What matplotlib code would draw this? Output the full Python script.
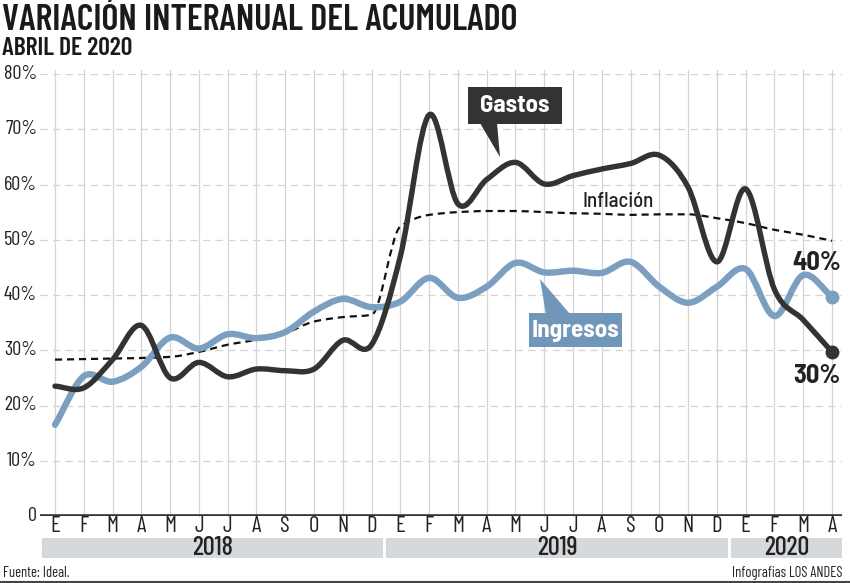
import matplotlib
matplotlib.use("Agg")
import matplotlib.pyplot as plt
from matplotlib.path import Path
from matplotlib.patches import PathPatch, Rectangle, Polygon
import numpy as np

months = ["E", "F", "M", "A", "M", "J", "J", "A", "S", "O", "N", "D",
          "E", "F", "M", "A", "M", "J", "J", "A", "S", "O", "N", "D",
          "E", "F", "M", "A"]
years = ["2018", "2019", "2020"]

gastos = [23.5, 23.2, 28.3, 34.5, 25.0, 27.8, 25.2, 26.6, 26.3, 26.6, 31.8, 31.0,
          47.0, 72.6, 56.5, 60.9, 64.0, 60.1, 61.6, 62.8, 63.8, 65.3, 59.5, 46.0,
          59.2, 41.0, 35.5, 29.7]
ingresos = [16.5, 25.3, 24.3, 27.0, 32.3, 30.3, 32.9, 32.2, 33.3, 37.0, 39.3, 37.8,
            38.8, 43.1, 39.5, 41.5, 45.8, 44.1, 44.4, 44.0, 46.0, 41.5, 38.6, 41.5,
            44.7, 36.2, 43.6, 39.7]
inflacion = [28.3, 28.4, 28.5, 28.6, 28.8, 29.7, 31.0, 31.9, 33.1, 35.2, 36.0, 36.4,
             52.4, 54.5, 55.0, 55.2, 55.2, 55.0, 54.8, 54.7, 54.5, 54.6, 54.6, 53.9,
             53.0, 51.8, 50.9, 49.8]
yticks = [0, 10, 20, 30, 40, 50, 60, 70, 80]
ytick_labels = ["0", "10%", "20%", "30%", "40%", "50%", "60%", "70%", "80%"]

DARK = "#333333"
BLUE = "#7b9fc0"
BLUE_BOX = "#7096b9"
BAND = "#d6d9dc"
GRID = "#d4d4d4"
TXT = "#222222"
COND = ["Barlow Condensed", "DejaVu Sans"]
SEMI = ["Barlow Semi Condensed", "Barlow Condensed", "DejaVu Sans"]

W, H = 850, 583
fig = plt.figure(figsize=(W / 100, H / 100), dpi=100)

def fx(px):
    return px / W

def fy(py):
    return 1 - py / H

ax_l, ax_r, ax_t, ax_b = 40, 842, 74, 516
ax = fig.add_axes([fx(ax_l), fy(ax_b), (ax_r - ax_l) / W, (ax_b - ax_t) / H])
x0_px, dx_px = 55, (832 - 55) / 27
ax.set_xlim((ax_l - x0_px) / dx_px, (ax_r - x0_px) / dx_px)
ax.set_ylim(0, 80)
for s in ax.spines.values():
    s.set_visible(False)
ax.set_xticks([])
ax.set_yticks([])
ax.patch.set_alpha(0)

x = np.arange(len(months))

def dxp(px):
    return (px - x0_px) / dx_px

def dyp(py):
    return (ax_b - py) / (ax_b - ax_t) * 80

# grid
for xi in x:
    ax.plot([xi, xi], [0, dyp(70)], color=GRID, lw=0.9, zorder=1, clip_on=False)
for yt in yticks[1:]:
    ax.plot(ax.get_xlim(), [yt, yt], color=GRID, lw=0.9, ls=(0, (6, 4)), zorder=1)
ax.plot(ax.get_xlim(), [0, 0], color=DARK, lw=2.6, zorder=5, solid_capstyle="butt")

def tangents(y, monotone=False):
    y = np.asarray(y, float)
    n = len(y)
    d = np.diff(y)
    m = np.zeros(n)
    m[0], m[-1] = d[0], d[-1]
    if monotone:
        for i in range(1, n - 1):
            if d[i - 1] * d[i] <= 0:
                m[i] = 0
            else:
                m[i] = 2 / (1 / d[i - 1] + 1 / d[i])
    else:
        m[1:-1] = (y[2:] - y[:-2]) / 2
    return m

def smooth_path(xs, ys, monotone=False):
    ys = np.asarray(ys, float)
    m = tangents(ys, monotone)
    verts = [(xs[0], ys[0])]
    codes = [Path.MOVETO]
    for i in range(len(xs) - 1):
        h = xs[i + 1] - xs[i]
        verts += [(xs[i] + h / 3, ys[i] + m[i] * h / 3),
                  (xs[i + 1] - h / 3, ys[i + 1] - m[i + 1] * h / 3),
                  (xs[i + 1], ys[i + 1])]
        codes += [Path.CURVE4] * 3
    return Path(verts, codes)

ax.add_patch(PathPatch(smooth_path(x, inflacion, monotone=True), fill=False,
                       edgecolor="#111111", lw=1.6, ls=(0, (3.2, 2.2)), zorder=3))
ax.add_patch(PathPatch(smooth_path(x, ingresos), fill=False, edgecolor=BLUE,
                       lw=4.6, zorder=4, capstyle="round", joinstyle="round"))
ax.add_patch(PathPatch(smooth_path(x, gastos), fill=False, edgecolor=DARK,
                       lw=3.9, zorder=6, capstyle="round", joinstyle="round"))
ax.plot([x[-1]], [ingresos[-1]], "o", color=BLUE, ms=9, zorder=7)
ax.plot([x[-1]], [gastos[-1]], "o", color=DARK, ms=9, zorder=7)

# callouts
ax.add_patch(Rectangle((dxp(468), dyp(124)), dxp(562) - dxp(468), dyp(87) - dyp(124),
                       facecolor=DARK, edgecolor="none", zorder=8, clip_on=False))
ax.add_patch(Polygon([(dxp(480), dyp(123)), (dxp(497), dyp(123)), (dxp(500), dyp(157))],
                     closed=True, facecolor=DARK, edgecolor="none", zorder=8))
ax.text(dxp(515), dyp(106), "Gastos", color="white", fontsize=18, fontweight="bold",
        family=SEMI, ha="center", va="center", zorder=9)

ax.add_patch(Rectangle((dxp(529), dyp(347)), dxp(622) - dxp(529), dyp(313) - dyp(347),
                       facecolor=BLUE_BOX, edgecolor="none", zorder=8))
ax.add_patch(Polygon([(dxp(540), dyp(279)), (dxp(546), dyp(314)), (dxp(570), dyp(314))],
                     closed=True, facecolor=BLUE_BOX, edgecolor="none", zorder=8))
ax.text(dxp(575.5), dyp(330.5), "Ingresos", color="white", fontsize=18, fontweight="bold",
        family=SEMI, ha="center", va="center", zorder=9)

ax.text(dxp(618), dyp(202), "Inflación", color=TXT, fontsize=15, fontweight="medium",
        family=SEMI, ha="center", va="center", zorder=9)
ax.text(dxp(817), dyp(263), "40%", color=TXT, fontsize=19, fontweight="bold",
        family=SEMI, ha="center", va="center", zorder=9)
ax.text(dxp(817), dyp(376), "30%", color=TXT, fontsize=19, fontweight="bold",
        family=SEMI, ha="center", va="center", zorder=9)

# y tick labels
for yt, lab in zip(yticks, ytick_labels):
    ax.text(dxp(37), yt, lab, ha="right", va="center", fontsize=14.5, family=COND,
            color=TXT)

# month labels
for xi, mlab in zip(x, months):
    ax.text(xi, dyp(526), mlab, ha="center", va="center", fontsize=16.5, family=COND,
            color=TXT, clip_on=False)

# year bands
band_edges = [(42, 383), (386, 728), (731, 842)]
for (a, b), yl in zip(band_edges, years):
    ax.add_patch(Rectangle((dxp(a), dyp(558)), dxp(b) - dxp(a), dyp(538) - dyp(558),
                           facecolor=BAND, edgecolor="none", clip_on=False, zorder=1))
    ax.text((dxp(a) + dxp(b)) / 2, dyp(548), yl, ha="center", va="center",
            fontsize=19, fontweight="medium", family=COND, color=TXT, clip_on=False)

# titles and footer
fig.text(fx(2), fy(29.5), "VARIACIÓN INTERANUAL DEL ACUMULADO", fontsize=26,
         fontweight="semibold", family=COND, color="#1a1a1a", va="baseline", ha="left")
fig.text(fx(2), fy(55), "ABRIL DE 2020", fontsize=18.5, fontweight="semibold",
         family=COND, color="#1a1a1a", va="baseline", ha="left")
fig.text(fx(3), fy(573), "Fuente: Ideal.", fontsize=10.5, family=COND,
         color=TXT, va="center", ha="left")
fig.text(fx(842), fy(573), "Infografías LOS ANDES", fontsize=10.5, family=COND,
         color=TXT, va="center", ha="right")
fig.add_artist(plt.Line2D([0, 1], [fy(581.5), fy(581.5)], color="#444444", lw=1.5))

fig.savefig("out.png", dpi=100, facecolor="white")
